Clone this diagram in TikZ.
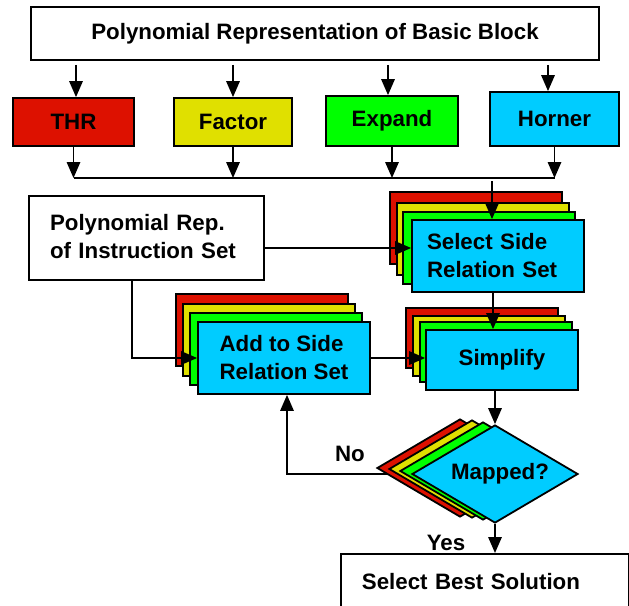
\documentclass[tikz,border=0pt]{standalone}
\usepackage{fontspec}
\setmainfont{Liberation Sans}
\usetikzlibrary{arrows.meta,shapes.geometric,backgrounds,calc}
\definecolor{cred}{RGB}{221,17,0}
\definecolor{cyel}{RGB}{224,224,0}
\definecolor{cgrn}{RGB}{0,255,0}
\definecolor{ccyan}{RGB}{0,204,255}

\begin{document}
\begin{tikzpicture}[x=1pt,y=-1pt,
  font=\fontsize{22.3pt}{28pt}\selectfont\bfseries,
  box/.style={draw=black, line width=1.8pt, rectangle, inner sep=0pt},
  card/.style={box, minimum width=172pt, minimum height=72pt},
  smallcard/.style={box, minimum width=152pt, minimum height=60pt},
  decide/.style={draw=black, line width=1.8pt, diamond, aspect=1.7, inner sep=0pt,
                 minimum width=166pt, minimum height=98pt},
  arr/.style={line width=1.6pt, -{Triangle[length=16pt,width=13.5pt]}},
  bus/.style={line width=1.6pt},
]
\useasboundingbox (0,0) rectangle (629,605);

% source block
\node[box, fill=white, minimum width=568pt, minimum height=53pt] (top) at (315,33.5)
  {Polynomial Representation of Basic Block};

% the four rewriting methods
\node[box, fill=cred,  minimum width=121pt, minimum height=48pt] (thr)  at (73.5,122) {THR};
\node[box, fill=cyel,  minimum width=118pt, minimum height=48pt] (fac)  at (233,122)  {Factor};
\node[box, fill=cgrn,  minimum width=132pt, minimum height=50pt] (expd) at (392,121)  {Expand};
\node[box, fill=ccyan, minimum width=129pt, minimum height=54pt] (hor)  at (554.5,119) {Horner};

% instruction set
\node[box, fill=white, minimum width=235pt, minimum height=84pt, text width=193pt,
      inner xsep=21pt, align=left] (instr) at (146.5,238)
  {\raisebox{3pt}{Polynomial Rep.}\\\raisebox{3pt}{of Instruction Set}};

% select side relation set (stacked copies)
\node[card, fill=cred] (selR) at (476,228) {};
\node[card, fill=cyel] (selY) at (483,239) {};
\node[card, fill=cgrn] (selG) at (489,248) {};
\node[card, fill=ccyan, text width=142pt, inner xsep=15pt, align=left] (sel) at (498,256)
  {Select Side\\Relation Set};

% add to side relation set (stacked copies)
\node[card, fill=cred] (addR) at (262,330) {};
\node[card, fill=cyel] (addY) at (269,340) {};
\node[card, fill=cgrn] (addG) at (276,349) {};
\node[card, fill=ccyan, align=left] (add) at (284,358) {Add to Side\\Relation Set};

% simplify (stacked copies)
\node[smallcard, fill=cred] (simR) at (482,338) {};
\node[smallcard, fill=cyel] (simY) at (489,346) {};
\node[smallcard, fill=cgrn] (simG) at (496,352) {};
\node[smallcard, fill=ccyan] (simp) at (502,360) {\raisebox{4pt}{Simplify}};

% decision (stacked copies)
\node[decide, fill=cred] (dmR) at (460,468) {};
\node[decide, fill=cyel] (dmY) at (472,469) {};
\node[decide, fill=cgrn] (dmG) at (483,471) {};
\node[decide, fill=ccyan] (dmap) at (495,474) {\hspace*{10pt}Mapped?};

% result
\node[box, fill=white, anchor=north west, minimum width=288pt, minimum height=62pt,
      text width=246pt, inner xsep=21pt, align=left] (best) at (340,553)
  {\raisebox{6pt}{Select Best Solution}};

% branch labels
\node (no)  at (350,454) {No};
\node (yes) at (446,543) {Yes};

% fan out to the methods
\foreach \n/\dx in {thr/2.5, fac/0, expd/-4, hor/-6.5}
  \draw[arr] ($(\n.north |- top.south)+(\dx,4)$) -- ($(\n.north)+(\dx,0)$);

% collect the methods on a bus
\coordinate (busy) at (0,178);
\foreach \n in {thr, fac, expd, hor}
  \draw[arr] (\n.south) -- (\n.south |- busy);
\draw[bus] (thr.south |- busy) -- (hor.south |- busy);
\draw[arr] ($(sel.north |- busy)+(-6,3)$) -- ($(sel.north)+(-6,0)$);

% instruction set feeds both selection and addition
\coordinate (iy) at ($(instr.east)+(0,10)$);
\draw[arr] (iy) -- (iy -| sel.west);
\draw[arr] ($(instr.south)+(-14.5,0)$) |- (add.west);

% main flow
\draw[arr] ($(sel.south)+(-5,0)$) coordinate (s1) -- (s1 |- simp.north);
\draw[arr] (add.east) -- (add.east -| simp.west);
\draw[arr] (dmap.north |- simp.south) -- (dmap.north);
\draw[arr] (dmap.south) -- (dmap.south |- best.north);

% loop back when not mapped
\begin{pgfonlayer}{background}
  \draw[arr] (dmap.west) -| ($(add.south)+(3,0)$);
\end{pgfonlayer}
\end{tikzpicture}
\end{document}
